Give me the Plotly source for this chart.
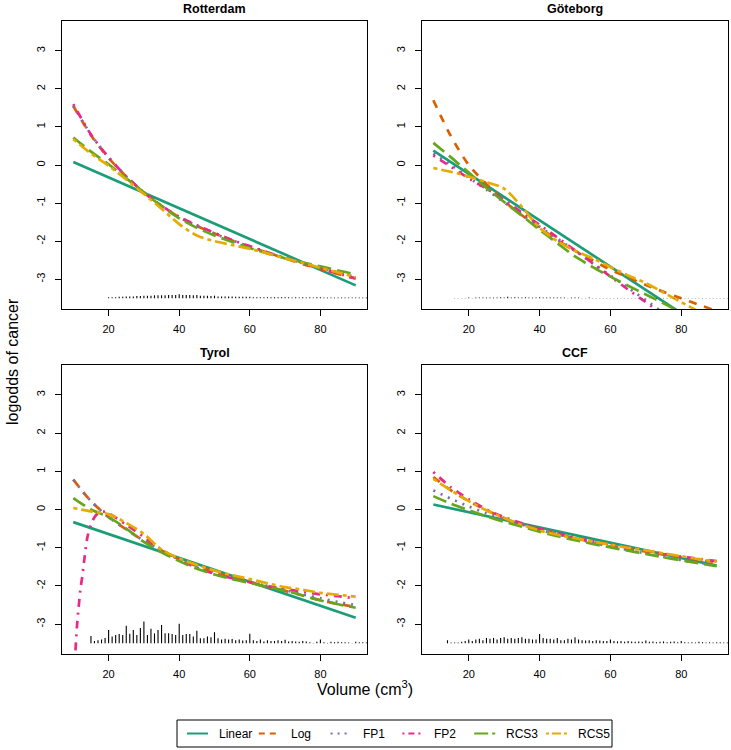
import plotly.graph_objects as go

# ---------------- data ----------------
models = ["Linear", "Log", "FP1", "FP2", "RCS3", "RCS5"]
colors = ["#1B9E77", "#D95F02", "#7570B3", "#E7298A", "#66A61E", "#E6AB02"]
dashes = ["solid", "8px,8px", "2px,6px", "2px,6px,8px,6px", "14px,6px", "4px,4px,12px,4px"]
legend_dashes = ["solid", "6px,5px", "2px,5px", "2px,4px,6px,4px", "14px,4px", "3px,3px,9px,3px"]
panels = ["Rotterdam", "Göteborg", "Tyrol", "CCF"]

grid = [10, 15, 20, 25, 30, 35, 40, 45, 50, 55, 60, 65, 70, 75, 80, 85, 90]
lin_x = [10, 90]

# Rotterdam
rot_linear = [0.08, -3.16]
rot_log = [1.55, 0.78, 0.18, -0.30, -0.72, -1.07, -1.37, -1.60, -1.80, -1.98, -2.15, -2.30, -2.45, -2.60, -2.73, -2.86, -2.98]
rot_fp1 = [1.55, 0.80, 0.20, -0.30, -0.72, -1.07, -1.37, -1.60, -1.80, -1.98, -2.14, -2.30, -2.44, -2.58, -2.70, -2.82, -2.95]
rot_fp2 = [1.60, 0.80, 0.20, -0.30, -0.72, -1.07, -1.36, -1.58, -1.78, -1.97, -2.13, -2.29, -2.44, -2.58, -2.72, -2.85, -2.98]
rot_rcs3 = [0.72, 0.35, 0.02, -0.35, -0.72, -1.08, -1.40, -1.65, -1.85, -2.02, -2.18, -2.32, -2.45, -2.56, -2.66, -2.77, -2.87]
rot_rcs5 = [0.68, 0.30, -0.02, -0.38, -0.76, -1.15, -1.55, -1.85, -2.00, -2.10, -2.20, -2.32, -2.45, -2.57, -2.70, -2.82, -2.95]

# Goteborg
got_linear = [0.38, -4.50]
got_log = [1.70, 0.75, 0.00, -0.50, -0.95, -1.32, -1.65, -1.97, -2.25, -2.50, -2.75, -2.95, -3.15, -3.33, -3.50, -3.67, -3.83]
got_fp1 = [0.30, 0.00, -0.33, -0.65, -0.98, -1.30, -1.62, -1.93, -2.25, -2.58, -2.90, -3.22, -3.55, -3.88, -4.20, -4.50, -4.80]
got_fp2 = [0.25, -0.05, -0.35, -0.62, -0.92, -1.25, -1.57, -1.90, -2.24, -2.58, -2.93, -3.27, -3.60, -3.95, -4.30, -4.60, -4.90]
got_rcs3 = [0.58, 0.20, -0.20, -0.60, -0.97, -1.33, -1.70, -2.05, -2.40, -2.68, -2.93, -3.17, -3.40, -3.63, -3.87, -4.10, -4.35]
got_rcs5 = [-0.08, -0.18, -0.30, -0.45, -0.62, -1.10, -1.65, -2.00, -2.25, -2.45, -2.68, -2.90, -3.10, -3.35, -3.60, -3.85, -4.10]

# Tyrol
tyr_linear = [-0.33, -2.83]
tyr_log = [0.78, 0.22, -0.20, -0.52, -0.82, -1.07, -1.30, -1.48, -1.63, -1.78, -1.90, -2.02, -2.13, -2.25, -2.37, -2.47, -2.55]
tyr_fp1 = [0.78, 0.22, -0.20, -0.52, -0.82, -1.07, -1.30, -1.48, -1.63, -1.77, -1.89, -2.00, -2.11, -2.22, -2.32, -2.42, -2.50]
tyr_fp2_x = [10.5, 11, 11.5, 12, 12.5, 13, 14, 15, 16, 17, 18, 19, 20, 25, 30, 35, 40, 45, 50, 55, 60, 65, 70, 75, 80, 85, 90]
tyr_fp2 = [-3.90, -3.10, -2.57, -2.10, -1.78, -1.40, -0.72, -0.40, -0.20, -0.10, -0.06, -0.06, -0.10, -0.40, -0.72, -1.05, -1.32, -1.52, -1.68, -1.80, -1.90, -2.00, -2.08, -2.15, -2.22, -2.27, -2.32]
tyr_rcs3 = [0.30, 0.00, -0.20, -0.50, -0.85, -1.12, -1.35, -1.55, -1.70, -1.82, -1.92, -2.02, -2.12, -2.25, -2.38, -2.48, -2.57]
tyr_rcs5 = [0.04, -0.05, -0.12, -0.35, -0.64, -1.05, -1.28, -1.45, -1.60, -1.72, -1.82, -1.93, -2.03, -2.10, -2.18, -2.23, -2.28]

# CCF
ccf_linear = [0.13, -1.47]
ccf_log = [0.85, 0.50, 0.22, -0.02, -0.22, -0.38, -0.52, -0.64, -0.75, -0.85, -0.94, -1.03, -1.10, -1.18, -1.25, -1.32, -1.38]
ccf_fp1 = [0.50, 0.28, 0.08, -0.10, -0.26, -0.40, -0.53, -0.65, -0.76, -0.87, -0.97, -1.06, -1.15, -1.24, -1.32, -1.39, -1.46]
ccf_fp2 = [0.98, 0.58, 0.27, 0.00, -0.20, -0.36, -0.50, -0.62, -0.73, -0.83, -0.92, -1.00, -1.08, -1.16, -1.23, -1.29, -1.35]
ccf_rcs3 = [0.35, 0.15, -0.02, -0.18, -0.32, -0.45, -0.58, -0.70, -0.80, -0.90, -0.99, -1.08, -1.16, -1.25, -1.33, -1.41, -1.48]
ccf_rcs5 = [0.80, 0.50, 0.22, -0.02, -0.22, -0.40, -0.55, -0.66, -0.75, -0.84, -0.92, -1.00, -1.07, -1.15, -1.22, -1.30, -1.36]

# Volume distribution spikes (relative frequency, hundredths of a logit unit)
rot_spike_x0 = 20
rot_spikes = [3, 3, 3, 4, 4, 5, 5, 5, 6, 6, 7, 7, 7, 8, 8, 8, 8, 9, 9, 9, 11, 9, 9, 9, 8, 9, 7, 7, 7, 6, 7,
              5, 5, 5, 5, 5, 4, 4, 4, 4, 4, 3, 3, 3, 3, 3, 3, 3, 3, 3, 3, 3, 2, 3, 2, 3, 2, 3, 2, 3, 3,
              2, 2, 2, 2, 2, 2, 2, 2, 2, 2, 2, 2, 2, 2]
got_spike_x0 = 16
got_spikes = [1, 1, 1, 1, 2, 1, 2, 2, 2, 2, 2, 2, 2, 3, 2, 4, 2, 3, 2, 2, 3, 2, 2, 2, 3, 2, 2, 2, 2, 2,
              2, 2, 1, 2, 2, 2, 1, 1, 2, 1, 1, 1, 1, 1, 1, 1, 1, 1, 1, 1, 1, 1, 1, 1, 1, 1, 1, 1, 1, 1,
              1, 1, 1, 1, 1, 1, 1, 1, 1, 1, 1, 1, 1, 1, 1, 1, 1, 1, 1, 1]
tyr_spike_x0 = 15
tyr_spikes = [19, 6, 8, 10, 14, 35, 18, 22, 24, 22, 46, 25, 35, 22, 40, 57, 22, 38, 26, 35, 48, 26, 26, 24, 22,
              51, 22, 24, 24, 18, 33, 13, 13, 18, 16, 29, 13, 10, 12, 10, 11, 8, 10, 7, 8, 25, 8, 6, 10, 5,
              8, 6, 6, 8, 6, 9, 5, 6, 5, 4, 6, 5, 3, 0, 4, 10, 3, 0, 4, 3, 4, 3, 3, 2, 0, 4, 3, 3, 2]
ccf_spike_x0 = 14
ccf_spikes = [8, 2, 2, 2, 4, 6, 10, 6, 10, 12, 8, 14, 12, 14, 10, 14, 16, 12, 14, 12, 14, 16, 12, 12, 10, 10,
              24, 14, 12, 12, 10, 14, 8, 8, 12, 10, 16, 10, 8, 7, 8, 6, 8, 7, 6, 6, 10, 6, 5, 6, 4, 6, 5,
              4, 5, 4, 7, 4, 5, 3, 4, 5, 3, 4, 5, 3, 6, 3, 2, 3, 2, 4, 3, 2, 3, 2, 3, 3, 2, 2]

panel_curves = [
    [rot_linear, rot_log, rot_fp1, rot_fp2, rot_rcs3, rot_rcs5],
    [got_linear, got_log, got_fp1, got_fp2, got_rcs3, got_rcs5],
    [tyr_linear, tyr_log, tyr_fp1, tyr_fp2, tyr_rcs3, tyr_rcs5],
    [ccf_linear, ccf_log, ccf_fp1, ccf_fp2, ccf_rcs3, ccf_rcs5],
]
panel_spikes = [(rot_spike_x0, rot_spikes), (got_spike_x0, got_spikes),
                (tyr_spike_x0, tyr_spikes), (ccf_spike_x0, ccf_spikes)]

x_ticks = [20, 40, 60, 80]
y_ticks = [-3, -2, -1, 0, 1, 2, 3]
y_ticktext = ["-3", "-2", "-1", "0", "1", "2", "3"]
spike_base = -3.5

# ---------------- layout ----------------
W, H = 731, 750
FONT = "Liberation Sans, Arial, sans-serif"


def px(xp):
    return xp / W


def py(yp):
    return 1 - yp / H


xdom_px = [(62, 367), (422, 728), (62, 367), (422, 728)]
ydom_px = [(21, 309), (21, 309), (365, 654), (365, 654)]

fig = go.Figure()

for p in range(4):
    ax = "" if p == 0 else str(p + 1)
    xref, yref = "x" + ax, "y" + ax
    curves = panel_curves[p]
    for m in range(6):
        if m == 0:
            xs = lin_x
        elif p == 2 and m == 3:
            xs = tyr_fp2_x
        else:
            xs = grid
        fig.add_trace(go.Scatter(
            x=xs, y=curves[m], mode="lines", name=models[m],
            line=dict(color=colors[m], width=2.7, dash=dashes[m], shape="spline", smoothing=0.8),
            xaxis=xref, yaxis=yref, showlegend=False, hoverinfo="skip"))
    x0, hs = panel_spikes[p]
    sx, sy = [], []
    for i, h in enumerate(hs):
        xv = x0 + i
        sx += [xv, xv, None]
        sy += [spike_base, spike_base + max(h, 1) / 100.0, None]
    fig.add_trace(go.Scatter(x=sx, y=sy, mode="lines", line=dict(color="black", width=1.1),
                             xaxis=xref, yaxis=yref, showlegend=False, hoverinfo="skip"))

    common = dict(showline=True, mirror=True, linecolor="black", linewidth=1,
                  ticks="outside", ticklen=6, tickcolor="black", tickwidth=1,
                  showgrid=False, zeroline=False, automargin=False,
                  tickfont=dict(family=FONT, size=11, color="black"))
    xd = [px(xdom_px[p][0]), px(xdom_px[p][1])]
    yd = [py(ydom_px[p][1]), py(ydom_px[p][0])]
    fig.layout["xaxis" + ax] = dict(domain=xd, range=[6.8, 93.2], tickvals=x_ticks,
                                    anchor=yref, ticklabelstandoff=4, **common)
    fig.layout["yaxis" + ax] = dict(domain=yd, range=[-3.78, 3.78], tickvals=y_ticks,
                                    ticktext=y_ticktext, tickangle=-90, anchor=xref,
                                    ticklabelstandoff=6, **common)
    fig.add_annotation(text="<b>%s</b>" % panels[p], x=px((xdom_px[p][0] + xdom_px[p][1]) / 2),
                       y=py(ydom_px[p][0] - 12), xref="paper", yref="paper",
                       showarrow=False, font=dict(family=FONT, size=12.5, color="black"),
                       xanchor="center", yanchor="middle")

fig.add_annotation(text="logodds of cancer", x=px(12), y=py(362), xref="paper", yref="paper",
                   textangle=-90, showarrow=False, font=dict(family=FONT, size=16, color="black"),
                   xanchor="center", yanchor="middle")
fig.add_annotation(text="Volume (cm<sup>3</sup>)", x=px(365), y=py(688), xref="paper", yref="paper",
                   showarrow=False, font=dict(family=FONT, size=16, color="black"),
                   xanchor="center", yanchor="middle")

# legend box drawn in paper coordinates
leg_left, leg_right, leg_top, leg_bot = 177, 612, 720, 747
leg_y = (leg_top + leg_bot) / 2
fig.add_shape(type="rect", xref="paper", yref="paper",
              x0=px(leg_left), x1=px(leg_right), y0=py(leg_bot), y1=py(leg_top),
              line=dict(color="black", width=1), fillcolor="white")
pitch = 71.8
for m in range(6):
    lx = 187 + pitch * m
    fig.add_shape(type="line", xref="paper", yref="paper",
                  x0=px(lx), x1=px(lx + 21), y0=py(leg_y), y1=py(leg_y),
                  line=dict(color=colors[m], width=2, dash=legend_dashes[m]))
    fig.add_annotation(text=models[m], x=px(lx + 30), y=py(leg_y), xref="paper", yref="paper",
                       showarrow=False, xanchor="left", yanchor="middle",
                       font=dict(family=FONT, size=12, color="black"))

fig.update_layout(
    width=W, height=H, margin=dict(l=0, r=0, t=0, b=0, autoexpand=False),
    paper_bgcolor="white", plot_bgcolor="white", showlegend=False,
    font=dict(family=FONT, color="black"), hovermode=False,
)

# remove the default 8px page margin so the figure sits at the window origin
fig.write_html("out.html", config={"displayModeBar": False, "staticPlot": True},
               post_script="document.body.style.margin='0';document.body.style.overflow='hidden';")
